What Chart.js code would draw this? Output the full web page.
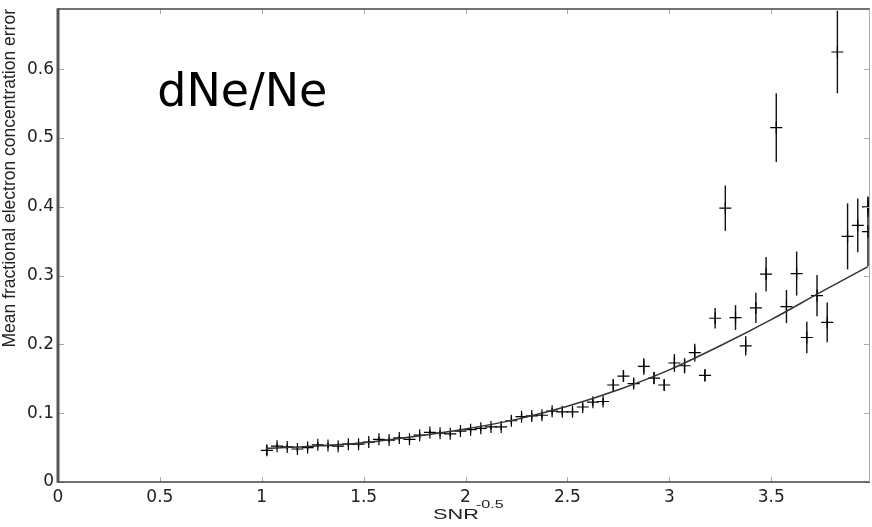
<!DOCTYPE html>
<html>
<head>
<meta charset="utf-8">
<script src="https://cdn.jsdelivr.net/npm/chart.js@4.4.1/dist/chart.umd.min.js"></script>
<style>
html, body { margin: 0; padding: 0; background: #fff; }
</style>
</head>
<body>
<canvas id="chart" width="872" height="527"></canvas>
<script>
// measured points: SNR^-0.5 vs mean fractional error, with error bar half-heights
const snrX = [1.025, 1.075, 1.125, 1.175, 1.225, 1.275, 1.325, 1.375, 1.425, 1.475,
              1.525, 1.575, 1.625, 1.675, 1.725, 1.775, 1.825, 1.875, 1.925, 1.975,
              2.025, 2.075, 2.125, 2.175, 2.225, 2.275, 2.325, 2.375, 2.425, 2.475,
              2.525, 2.575, 2.625, 2.675, 2.725, 2.775, 2.825, 2.875, 2.925, 2.975,
              3.025, 3.075, 3.125, 3.175, 3.225, 3.275, 3.325, 3.375, 3.425, 3.475,
              3.525, 3.575, 3.625, 3.675, 3.725, 3.775, 3.825, 3.875, 3.925, 3.975, 3.975];
const errMean = [0.046, 0.052, 0.051, 0.048, 0.050, 0.054, 0.053, 0.052, 0.055, 0.055,
                 0.058, 0.062, 0.061, 0.064, 0.062, 0.068, 0.072, 0.071, 0.070, 0.074,
                 0.076, 0.078, 0.080, 0.080, 0.089, 0.095, 0.096, 0.097, 0.103, 0.102,
                 0.102, 0.109, 0.116, 0.117, 0.141, 0.154, 0.143, 0.168, 0.151, 0.141,
                 0.173, 0.169, 0.188, 0.155, 0.238, 0.398, 0.239, 0.198, 0.253, 0.302,
                 0.515, 0.255, 0.303, 0.210, 0.271, 0.232, 0.625, 0.357, 0.373, 0.400, 0.364];
const errBar = [0.007, 0.004, 0.004, 0.004, 0.004, 0.004, 0.004, 0.004, 0.004, 0.004,
                0.004, 0.004, 0.004, 0.004, 0.004, 0.004, 0.004, 0.004, 0.004, 0.004,
                0.004, 0.004, 0.004, 0.004, 0.005, 0.005, 0.005, 0.005, 0.005, 0.005,
                0.005, 0.005, 0.005, 0.005, 0.008, 0.008, 0.007, 0.012, 0.009, 0.008,
                0.013, 0.011, 0.013, 0.009, 0.015, 0.033, 0.018, 0.014, 0.022, 0.025,
                0.050, 0.024, 0.032, 0.023, 0.030, 0.029, 0.060, 0.048, 0.039, 0.015, 0.050];

// fitted curve
const fitX = [1.02, 1.25, 1.5, 1.75, 2.0, 2.25, 2.5, 2.75, 3.0, 3.25, 3.5, 3.75, 3.975];
const fitY = [0.049, 0.052, 0.057, 0.066, 0.077, 0.091, 0.110, 0.134, 0.163, 0.198, 0.236, 0.277, 0.313];

const xTicks = [0, 0.5, 1, 1.5, 2, 2.5, 3, 3.5];
const xTickLabels = ['0', '0.5', '1', '1.5', '2', '2.5', '3', '3.5'];
const yTicks = [0, 0.1, 0.2, 0.3, 0.4, 0.5, 0.6];
const yTickLabels = ['0', '0.1', '0.2', '0.3', '0.4', '0.5', '0.6'];

const xMax = 3.985;
const yMax = 0.6875;
const noteText = 'dNe/Ne';
const notePos = { x: 0.487, y: 0.547 };

const tickFont = { family: 'DejaVu Sans', size: 17 };

// error bars, inward tick marks, frame and the extra texts
const extras = {
    id: 'extras',
    beforeDatasetsDraw(chart) {
        const c = chart.ctx, xs = chart.scales.x, ys = chart.scales.y;
        c.save();
        c.strokeStyle = '#111';
        c.lineWidth = 1.4;
        snrX.forEach((x, i) => {
            const px = xs.getPixelForValue(x);
            c.beginPath();
            c.moveTo(px, ys.getPixelForValue(errMean[i] - errBar[i]));
            c.lineTo(px, ys.getPixelForValue(errMean[i] + errBar[i]));
            c.stroke();
        });
        c.restore();
    },
    afterDraw(chart) {
        const c = chart.ctx, a = chart.chartArea, xs = chart.scales.x, ys = chart.scales.y;
        c.save();
        c.strokeStyle = '#aaa';
        c.lineWidth = 1;
        xTicks.forEach(v => {
            const px = Math.round(xs.getPixelForValue(v)) + 0.5;
            c.beginPath();
            c.moveTo(px, a.bottom); c.lineTo(px, a.bottom - 5);
            c.moveTo(px, a.top); c.lineTo(px, a.top + 5);
            c.stroke();
        });
        yTicks.forEach(v => {
            const py = Math.round(ys.getPixelForValue(v)) + 0.5;
            c.beginPath();
            c.moveTo(a.left, py); c.lineTo(a.left + 6, py);
            c.moveTo(a.right, py); c.lineTo(a.right - 6, py);
            c.stroke();
        });
        // frame
        c.strokeStyle = '#444';
        c.lineWidth = 1.5;
        c.beginPath();
        c.moveTo(a.left, a.top); c.lineTo(a.right, a.top);
        c.moveTo(a.left, a.bottom); c.lineTo(a.right, a.bottom);
        c.stroke();
        c.strokeStyle = '#aaa';
        c.lineWidth = 1;
        c.beginPath();
        c.moveTo(a.right - 0.5, a.top); c.lineTo(a.right - 0.5, a.bottom);
        c.stroke();
        c.strokeStyle = '#555';
        c.lineWidth = 3;
        c.beginPath();
        c.moveTo(a.left, a.top - 0.75); c.lineTo(a.left, a.bottom + 0.75);
        c.stroke();

        // x axis title with superscript
        c.fillStyle = '#222';
        c.textBaseline = 'alphabetic';
        c.save();
        c.translate(433, 519);
        c.scale(1.4, 1);
        c.font = '15.5px "Liberation Sans"';
        c.fillText('SNR', 0, 0);
        c.restore();
        c.save();
        c.translate(476, 507.5);
        c.scale(1.4, 1);
        c.font = '11.5px "Liberation Sans"';
        c.fillText('-0.5', 0, 0);
        c.restore();

        // annotation
        c.fillStyle = '#000';
        c.font = '46px "DejaVu Sans"';
        c.fillText(noteText, xs.getPixelForValue(notePos.x), ys.getPixelForValue(notePos.y));
        c.restore();
    }
};

const chart = new Chart(document.getElementById('chart'), {
    type: 'scatter',
    data: {
        datasets: [{
            label: 'fit',
            data: fitX.map((x, i) => ({ x: x, y: fitY[i] })),
            showLine: true,
            borderColor: '#333',
            borderWidth: 1.5,
            pointRadius: 0,
            cubicInterpolationMode: 'monotone'
        }, {
            label: noteText,
            data: snrX.map((x, i) => ({ x: x, y: errMean[i] })),
            pointStyle: 'cross',
            pointRadius: 6,
            borderColor: '#000',
            backgroundColor: '#000',
            borderWidth: 1.2
        }]
    },
    options: {
        responsive: false,
        animation: false,
        layout: { autoPadding: false, padding: { top: 9, right: 2, left: 0, bottom: 0 } },
        plugins: { legend: { display: false }, tooltip: { enabled: false } },
        scales: {
            x: {
                type: 'linear',
                min: 0,
                max: xMax,
                grid: { display: false, drawTicks: false },
                border: { display: false },
                ticks: {
                    padding: 5,
                    color: '#222',
                    font: tickFont,
                    maxRotation: 0,
                    callback: (v, i) => xTickLabels[i]
                },
                afterBuildTicks: s => { s.ticks = xTicks.map(v => ({ value: v })); },
                afterFit: s => { s.height = 45; s.paddingLeft = 0; s.paddingRight = 0; }
            },
            y: {
                type: 'linear',
                min: 0,
                max: yMax,
                grid: { display: false, drawTicks: false },
                border: { display: false },
                ticks: {
                    padding: 4,
                    color: '#222',
                    font: tickFont,
                    callback: (v, i) => yTickLabels[i]
                },
                title: {
                    display: true,
                    text: 'Mean fractional electron concentration error',
                    align: 'end',
                    color: '#222',
                    padding: 0,
                    font: { family: 'Liberation Sans', size: 17.5 }
                },
                afterBuildTicks: s => { s.ticks = yTicks.map(v => ({ value: v })); },
                afterFit: s => { s.width = 58; s.paddingTop = 0; s.paddingBottom = 0; }
            }
        }
    },
    plugins: [extras]
});
</script>
</body>
</html>
